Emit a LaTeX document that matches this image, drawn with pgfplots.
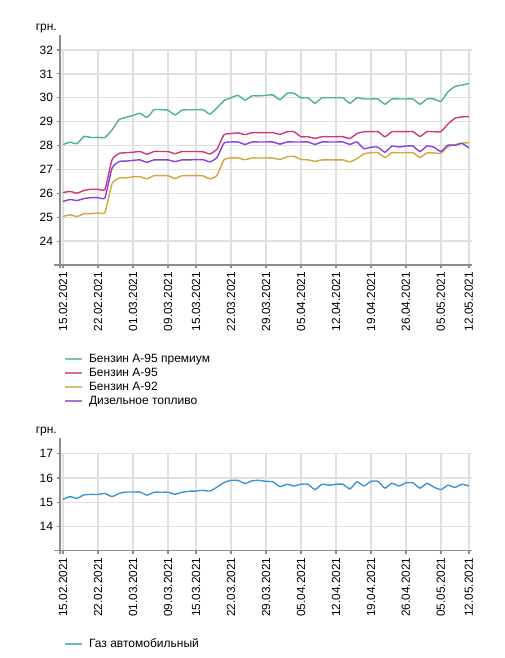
\documentclass[border=0pt]{standalone}
\usepackage{fontspec}
\setmainfont{Liberation Sans}
\usepackage{pgfplots}
\usepackage{pgfplotstable}
\pgfplotsset{compat=1.18}
\definecolor{cGreen}{HTML}{4CB391}
\definecolor{cMagenta}{HTML}{D0377D}
\definecolor{cGold}{HTML}{D4A63C}
\definecolor{cPurple}{HTML}{8A41D8}
\definecolor{cBlue}{HTML}{3C96D2}
\definecolor{axisgray}{HTML}{8C8C8C}
\definecolor{gridgray}{HTML}{E0E0E0}

\pgfplotstableread{
i prem a95 a92 dies
0 28.04 26.03 25.03 25.66
1 28.14 26.08 25.10 25.74
2 28.08 26.01 25.03 25.70
3 28.38 26.12 25.15 25.78
4 28.34 26.17 25.15 25.82
5 28.34 26.17 25.18 25.82
6 28.34 26.17 25.20 25.82
7 28.65 27.40 26.40 27.05
8 29.08 27.67 26.64 27.33
9 29.18 27.70 26.65 27.35
10 29.26 27.72 26.69 27.38
11 29.35 27.75 26.70 27.40
12 29.18 27.64 26.61 27.30
13 29.50 27.75 26.74 27.40
14 29.50 27.75 26.74 27.40
15 29.48 27.75 26.74 27.40
16 29.28 27.66 26.62 27.33
17 29.48 27.75 26.74 27.40
18 29.50 27.75 26.74 27.40
19 29.50 27.75 26.74 27.41
20 29.50 27.74 26.73 27.41
21 29.32 27.65 26.61 27.32
22 29.58 27.85 26.75 27.50
23 29.88 28.45 27.40 28.10
24 30.00 28.50 27.48 28.15
25 30.10 28.53 27.48 28.15
26 29.90 28.46 27.41 28.05
27 30.08 28.54 27.48 28.15
28 30.08 28.54 27.48 28.15
29 30.10 28.54 27.48 28.15
30 30.12 28.54 27.48 28.15
31 29.92 28.47 27.42 28.06
32 30.19 28.58 27.53 28.15
33 30.19 28.58 27.55 28.15
34 30.00 28.37 27.42 28.15
35 30.00 28.37 27.40 28.15
36 29.77 28.30 27.34 28.05
37 30.00 28.37 27.40 28.15
38 30.00 28.37 27.40 28.15
39 30.00 28.37 27.40 28.15
40 30.00 28.37 27.40 28.15
41 29.77 28.30 27.32 28.05
42 30.00 28.50 27.45 28.15
43 29.95 28.58 27.65 27.87
44 29.95 28.58 27.70 27.93
45 29.95 28.58 27.70 27.93
46 29.73 28.37 27.50 27.72
47 29.95 28.58 27.70 27.98
48 29.95 28.58 27.70 27.94
49 29.95 28.58 27.70 27.98
50 29.95 28.58 27.70 27.98
51 29.73 28.38 27.50 27.75
52 29.95 28.58 27.69 27.98
53 29.95 28.58 27.69 27.93
54 29.85 28.58 27.68 27.75
55 30.25 28.90 27.95 28.02
56 30.47 29.14 28.04 28.01
57 30.53 29.20 28.10 28.09
58 30.60 29.21 28.12 27.90
}\tabTop

\pgfplotstableread{
i gas
0 15.12
1 15.23
2 15.16
3 15.30
4 15.32
5 15.32
6 15.36
7 15.23
8 15.36
9 15.42
10 15.42
11 15.42
12 15.29
13 15.41
14 15.41
15 15.41
16 15.33
17 15.41
18 15.45
19 15.46
20 15.49
21 15.46
22 15.62
23 15.81
24 15.90
25 15.90
26 15.77
27 15.88
28 15.90
29 15.86
30 15.84
31 15.64
32 15.74
33 15.67
34 15.74
35 15.74
36 15.52
37 15.74
38 15.70
39 15.74
40 15.74
41 15.55
42 15.84
43 15.67
44 15.86
45 15.86
46 15.58
47 15.78
48 15.67
49 15.80
50 15.80
51 15.58
52 15.78
53 15.62
54 15.52
55 15.70
56 15.61
57 15.74
58 15.67
}\tabGas

\pgfplotsset{
  basestyle/.style={
    scale only axis,
    width=412pt,
    xmin=-0.4286, xmax=58.44,
    axis lines*=left,
    axis line style={draw=axisgray, line width=1.4pt},
    x axis line style={shorten <=-6pt},
    grid=major,
    major grid style={draw=gridgray, line width=1.3pt},
    xtick={0,5,10,15,19,24,29,34,39,44,49,54,58},
    xticklabels={15.02.2021,22.02.2021,01.03.2021,09.03.2021,15.03.2021,22.03.2021,29.03.2021,05.04.2021,12.04.2021,19.04.2021,26.04.2021,05.05.2021,12.05.2021},
    xticklabel style={rotate=90, anchor=east, font=\fontsize{11.8}{13}\selectfont},
    yticklabel style={font=\fontsize{12}{14}\selectfont},
    tick align=outside,
    major tick length=3.5pt,
    tick style={draw=axisgray, line width=1.2pt},
    /pgf/number format/assume math mode=true,
    legend cell align=left,
    legend image code/.code={\draw[#1, line width=2.2pt, draw opacity=0.75] (0pt,0pt) -- (17pt,0pt); \path[draw=none, fill=none] (24pt,0pt);},
  },
  ser/.style={draw=#1, line width=1.4pt, smooth, tension=0.3, no markers},
}

\begin{document}
\begin{tikzpicture}
\path[use as bounding box] (0pt,0pt) rectangle (505pt,658pt);

\begin{axis}[basestyle,
  at={(60pt,393pt)}, anchor=south west,
  height=215pt,
  ymin=23, ymax=32,
  ytick={24,25,26,27,28,29,30,31,32},
  y axis line style={shorten >=-15pt, shorten <=-3pt},
  legend style={at={(axis description cs:0.0097,-0.413)}, anchor=north west,
    draw=none, fill=none, inner sep=0pt, outer sep=0pt, row sep=3pt,
    font=\fontsize{12}{14}\selectfont,
    nodes={inner sep=0pt, text height=8.6pt, text depth=2.4pt}},
]
\addplot[ser=cGreen] table[x=i, y=prem] {\tabTop};
\addlegendentry{Бензин А-95 премиум}
\addplot[ser=cMagenta] table[x=i, y=a95] {\tabTop};
\addlegendentry{Бензин А-95}
\addplot[ser=cGold] table[x=i, y=a92] {\tabTop};
\addlegendentry{Бензин А-92}
\addplot[ser=cPurple] table[x=i, y=dies] {\tabTop};
\addlegendentry{Дизельное топливо}
\end{axis}

\begin{axis}[basestyle,
  at={(60pt,107.3pt)}, anchor=south west,
  height=97pt,
  ymin=13, ymax=17,
  ytick={14,15,16,17},
  y axis line style={shorten >=-15.7pt, shorten <=-3pt},
  legend style={at={(axis description cs:0.0097,-0.906)}, anchor=north west,
    draw=none, fill=none, inner sep=0pt, outer sep=0pt, row sep=3pt,
    font=\fontsize{12}{14}\selectfont,
    nodes={inner sep=0pt, text height=8.6pt, text depth=2.4pt}},
]
\addplot[ser=cBlue] table[x=i, y=gas] {\tabGas};
\addlegendentry{Газ автомобильный}
\end{axis}

\node[anchor=base east, font=\fontsize{12}{14}\selectfont, inner sep=0pt] at (57pt,627.7pt) {грн.};
\node[anchor=base east, font=\fontsize{12}{14}\selectfont, inner sep=0pt] at (57pt,224pt) {грн.};
\end{tikzpicture}
\end{document}
